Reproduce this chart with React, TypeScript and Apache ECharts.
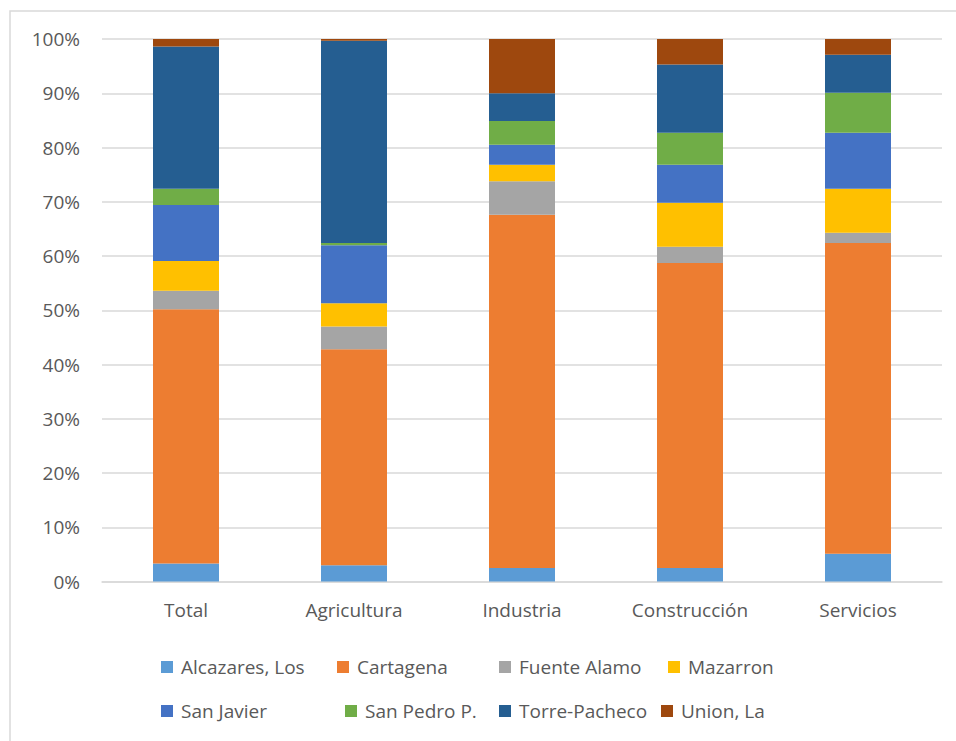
import React, { useEffect, useRef } from "react";
import * as echarts from "echarts";

const categories = ["Total", "Agricultura", "Industria", "Construcción", "Servicios"];
const yTickLabels = ["0%", "10%", "20%", "30%", "40%", "50%", "60%", "70%", "80%", "90%", "100%"];

const seriesNames = [
  "Alcazares, Los",
  "Cartagena",
  "Fuente Alamo",
  "Mazarron",
  "San Javier",
  "San Pedro P.",
  "Torre-Pacheco",
  "Union, La",
];

const alcazares = [3.3, 3.0, 2.5, 2.5, 5.1];
const cartagena = [46.9, 39.8, 65.1, 56.2, 57.3];
const fuenteAlamo = [3.4, 4.2, 6.2, 3.0, 1.9];
const mazarron = [5.5, 4.3, 3.0, 8.1, 8.1];
const sanJavier = [10.3, 10.7, 3.7, 7.0, 10.3];
const sanPedro = [3.0, 0.4, 4.4, 5.9, 7.4];
const torrePacheco = [26.2, 37.3, 5.1, 12.6, 7.0];
const unionLa = [1.4, 0.3, 10.0, 4.7, 2.9];

const seriesValues = [alcazares, cartagena, fuenteAlamo, mazarron, sanJavier, sanPedro, torrePacheco, unionLa];
const colors = ["#5B9BD5", "#ED7D31", "#A5A5A5", "#FFC000", "#4472C4", "#70AD47", "#255E91", "#9E480E"];

const legendPos = [
  [161, 657],
  [337, 657],
  [499, 657],
  [668, 657],
  [161, 701],
  [345, 701],
  [499, 701],
  [661, 701],
];

const FONT = "'Open Sans', sans-serif";
const TEXT_COLOR = "#595959";

export default function App() {
  const ref = useRef<HTMLDivElement>(null);
  useEffect(() => {
    if (!ref.current) return;
    const chart = echarts.init(ref.current, undefined, { renderer: "svg" });
    chart.setOption({
      animation: false,
      backgroundColor: "#ffffff",
      color: colors,
      graphic: [
        {
          type: "rect",
          shape: { x: 10, y: 11, width: 980, height: 760 },
          style: { fill: "none", stroke: "#D9D9D9", lineWidth: 1.5 },
          silent: true,
        },
      ],
      grid: { left: 102, right: 14, top: 39, bottom: 159.5, containLabel: false },
      xAxis: {
        type: "category",
        data: categories,
        axisLine: { show: true, lineStyle: { color: "#D9D9D9", width: 1.5 } },
        axisTick: { show: false },
        axisLabel: { color: TEXT_COLOR, fontFamily: FONT, fontSize: 19, margin: 19 },
      },
      yAxis: {
        type: "value",
        min: 0,
        max: 100,
        interval: 10,
        axisLine: { show: false },
        axisTick: { show: false },
        splitLine: { lineStyle: { color: "#D9D9D9", width: 1.5 } },
        axisLabel: {
          color: TEXT_COLOR,
          fontFamily: FONT,
          fontSize: 19,
          margin: 22,
          formatter: (v: number) => yTickLabels[Math.round(v / 10)] ?? v + "%",
        },
      },
      legend: seriesNames.map((name, i) => ({
        data: [name],
        left: legendPos[i][0],
        top: legendPos[i][1],
        padding: 0,
        icon: "rect",
        itemWidth: 12,
        itemHeight: 12,
        selectedMode: false,
        textStyle: {
          color: TEXT_COLOR,
          fontFamily: FONT,
          fontSize: 19,
          lineHeight: 20,
          padding: [0, 0, 0, 3],
        },
      })),
      series: seriesNames.map((name, i) => ({
        name,
        type: "bar",
        stack: "total",
        barWidth: 66,
        data: seriesValues[i],
        itemStyle: { color: colors[i] },
      })),
    });
    return () => chart.dispose();
  }, []);
  return (
    <div
      ref={ref}
      style={{ position: "absolute", left: 0, top: 0, width: 956, height: 741 }}
    />
  );
}
